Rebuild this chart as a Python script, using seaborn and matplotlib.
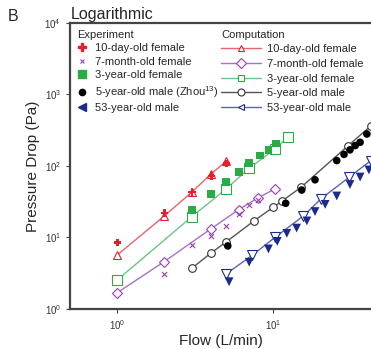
import seaborn as sns
import matplotlib.pyplot as plt
from matplotlib.lines import Line2D

# experiment data
exp_10d_flow = [1, 2, 3, 4, 5]
exp_10d_dp = [8.5, 22, 43, 72, 108]
exp_7m_flow = [2, 3, 4, 5, 6, 7, 8]
exp_7m_dp = [3.1, 7.8, 10.5, 14.4, 21.5, 28.5, 33]
exp_3y_flow = [3, 4, 5, 6, 7, 8.2, 9.3, 10.4]
exp_3y_dp = [24, 40, 60, 82, 109, 140, 168, 206]
exp_5y_flow = [5.1, 12, 15.2, 18.5, 25.5, 28.4, 31, 33.5, 36, 39.8]
exp_5y_dp = [7.6, 30, 46, 64, 119, 145, 168, 193, 214, 280]
exp_53y_flow = [5.2, 7.0, 9.3, 10.6, 12.2, 14.1, 16.4, 18.5, 21.5, 25.5, 31, 36, 41]
exp_53y_dp = [2.4, 4.5, 6.9, 8.8, 11.4, 13.5, 17, 23, 29, 38, 55, 70, 88]

# computation data
comp_10d_flow = [1, 2, 3, 4, 5]
comp_10d_dp = [5.7, 20, 43, 78, 117]
comp_7m_flow = [1, 2, 4, 6, 8, 10.3]
comp_7m_dp = [1.69, 4.6, 13.3, 24.5, 36, 48]
comp_3y_flow = [1, 3, 5, 7, 10.3, 12.4]
comp_3y_dp = [2.55, 19.5, 48, 93, 174, 257]
comp_5y_flow = [3, 4, 5, 7.5, 10, 11.3, 15, 30, 42]
comp_5y_dp = [3.7, 6.1, 8.7, 17, 26.5, 32, 50, 190, 360]
comp_53y_flow = [5, 7.3, 10.3, 15.6, 20.3, 30.5, 42]
comp_53y_dp = [3.1, 5.6, 10.1, 20, 35, 69, 118]

labels = ["10-day-old female", "7-month-old female", "3-year-old female",
          "5-year-old male (Zhou$^{\\mathregular{13}}$)", "53-year-old male"]
comp_labels = ["10-day-old female", "7-month-old female", "3-year-old female",
               "5-year-old male", "53-year-old male"]

sns.set_style("ticks")
plt.rcParams['font.family'] = ['Liberation Sans', 'DejaVu Sans']
plt.rcParams['mathtext.fontset'] = 'custom'
plt.rcParams['mathtext.rm'] = 'Liberation Sans'

fig = plt.figure(figsize=(3.71, 3.49), dpi=100)
ax = fig.add_axes([0.189, 0.115, 0.811, 0.819])

exp_col = ['#e3202c', '#9a3fb0', '#2bab44', 'black', '#1c2a8c']
line_col = ['#e8636a', '#a872c4', '#6cc487', '#555555', '#5a64b4']
comp_mk = ['^', 'D', 's', 'o', 'v']
comp_ms = [5.5, 5, 6.5, 5.5, 6.5]

comps = [(comp_10d_flow, comp_10d_dp), (comp_7m_flow, comp_7m_dp),
         (comp_3y_flow, comp_3y_dp), (comp_5y_flow, comp_5y_dp),
         (comp_53y_flow, comp_53y_dp)]
for (fx, fy), c, lc, m, s in zip(comps, exp_col, line_col, comp_mk, comp_ms):
    sns.lineplot(x=fx, y=fy, ax=ax, color=lc, lw=1, marker=m, markersize=s,
                 markerfacecolor='white', markeredgecolor=c if c != 'black' else '#333333',
                 markeredgewidth=0.8, zorder=2)

sns.scatterplot(x=exp_10d_flow, y=exp_10d_dp, ax=ax, marker='P', color=exp_col[0], s=30,
                edgecolor='none', zorder=3)
sns.scatterplot(x=exp_7m_flow, y=exp_7m_dp, ax=ax, marker='x', color=exp_col[1], s=14,
                linewidth=0.8, zorder=3)
sns.scatterplot(x=exp_3y_flow, y=exp_3y_dp, ax=ax, marker='s', color=exp_col[2], s=32,
                edgecolor='none', zorder=3)
sns.scatterplot(x=exp_5y_flow, y=exp_5y_dp, ax=ax, marker='o', color=exp_col[3], s=30,
                edgecolor='none', zorder=3)
sns.scatterplot(x=exp_53y_flow, y=exp_53y_dp, ax=ax, marker='v', color=exp_col[4], s=40,
                edgecolor='none', zorder=3)

ax.set_xscale('log')
ax.set_yscale('log')
ax.set_xlim(0.497, 42.3)
ax.set_ylim(1, 1e4)
ax.minorticks_off()
ax.set_xticks([1, 10])
ax.set_yticks([1, 10, 100, 1000, 10000])
ax.tick_params(labelsize=7, labelcolor='#333333', length=3, width=0.8, color='#444444')
for sp in ['left', 'bottom', 'top']:
    ax.spines[sp].set_linewidth(1.6)
    ax.spines[sp].set_color('#444444')
ax.spines['right'].set_visible(False)

ax.set_xlabel('Flow (L/min)', fontsize=11, labelpad=2)
ax.set_ylabel('Pressure Drop (Pa)', fontsize=11, labelpad=3)

fig.text(0.02, 0.94, 'B', fontsize=11.5)
fig.text(0.19, 0.945, 'Logarithmic', fontsize=11.5)

# legends
exp_handles = [
    Line2D([], [], ls='none', marker='P', color=exp_col[0], markersize=5.5),
    Line2D([], [], ls='none', marker='x', color=exp_col[1], markersize=3.5, markeredgewidth=0.8),
    Line2D([], [], ls='none', marker='s', color=exp_col[2], markersize=5.5),
    Line2D([], [], ls='none', marker='o', color=exp_col[3], markersize=4.5),
    Line2D([], [], ls='none', marker='<', color=exp_col[4], markersize=5.5),
]
leg1 = ax.legend(exp_handles, labels, title='Experiment', loc='upper left',
                 bbox_to_anchor=(0.0, 1.0), frameon=False, fontsize=8,
                 title_fontsize=8, handlelength=1, handletextpad=0.6,
                 labelspacing=0.32, borderaxespad=0.2)
leg1._legend_box.align = 'left'
ax.add_artist(leg1)

comp_mk_leg = ['^', 'D', 's', 'o', '<']
comp_handles = [
    Line2D([], [], color=lc, lw=1, marker=m, markersize=5, markerfacecolor='white',
           markeredgecolor=c if c != 'black' else '#333333', markeredgewidth=0.8)
    for c, lc, m in zip(exp_col, line_col, comp_mk_leg)
]
leg2 = ax.legend(comp_handles, comp_labels, title='Computation', loc='upper left',
                 bbox_to_anchor=(0.48, 1.0), frameon=False, fontsize=8,
                 title_fontsize=8, handlelength=3.6, handletextpad=0.5,
                 labelspacing=0.42, borderaxespad=0.2)
leg2._legend_box.align = 'left'

fig.savefig('out.png', dpi=100)
